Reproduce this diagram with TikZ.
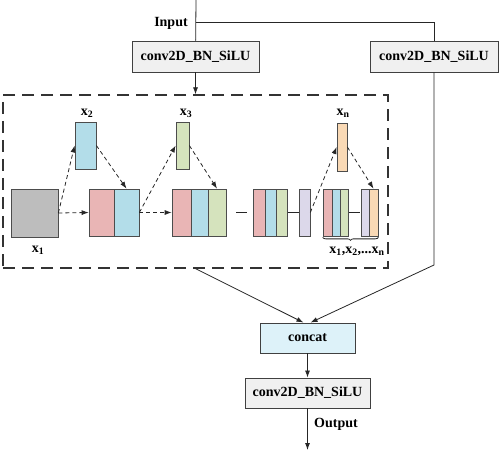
\documentclass[tikz,border=0pt]{standalone}
\usepackage{fontspec}
\setmainfont{Liberation Serif}
\usetikzlibrary{arrows.meta,decorations.pathreplacing}

\definecolor{convfill}{HTML}{F0F0F0}
\definecolor{catfill}{HTML}{DDF2F9}
\definecolor{fgray}{HTML}{BDBDBD}
\definecolor{fpink}{HTML}{E9B5B5}
\definecolor{fblue}{HTML}{B3DDE9}
\definecolor{fgreen}{HTML}{D5E3BD}
\definecolor{flav}{HTML}{DCD8EA}
\definecolor{forange}{HTML}{F9D9B5}

\begin{document}
\begin{tikzpicture}[
    x=1pt, y=-1pt,
    font=\fontsize{14}{16}\selectfont\bfseries,
    conv/.style={draw=black!75, fill=convfill, line width=0.9pt, minimum width=127pt, minimum height=31pt, inner sep=0pt},
    cat box/.style={conv, fill=catfill, minimum width=95pt, minimum height=30pt},
    feat/.style={draw=black!70, fill=#1, line width=0.7pt, minimum height=47pt, inner sep=0pt},
    csp box/.style={draw=black!80, line width=1.3pt, dash pattern=on 12pt off 7pt, minimum width=385pt, minimum height=173pt},
    line/.style={draw=black!85, line width=0.8pt},
    arr/.style={line, -{Latex[length=7pt,width=5pt]}},
    flow/.style={arr, dash pattern=on 4pt off 3pt},
    sep/.style={draw=black!85, line width=1.6pt},
    lbl/.style={inner sep=1pt}
]
\useasboundingbox (0,0) rectangle (500,454);

% Input and first convolutions
\coordinate (in) at (196,0);
\coordinate (split) at (196,22);
\node[lbl] (inlbl) at (171,23) {Input};
\node[conv] (cl) at (195.5,56.5) {conv2D\_BN\_SiLU};
\node[conv, minimum width=128pt] (cr) at (434,56.5) {conv2D\_BN\_SiLU};

\draw[line] (in) -- (cl);
\draw[line] (split) -| (cr);

% Dashed block
\node[csp box] (csp) at (195.5,181.5) {};
\draw[arr] (cl) -- (csp);

% Feature maps
\node[feat=fgray, minimum width=47pt, minimum height=48pt] (x1) at (34.5,213) {};
\node[feat=fblue, minimum width=21pt] (x2) at (85.5,145.5) {};
\node[feat=fpink, minimum width=25pt] (p2) at (101.5,212.5) {};
\node[feat=fblue, minimum width=25pt] (b2) at (126.5,212.5) {};

\node[feat=fgreen, minimum width=13pt] (x3) at (182.5,145.5) {};
\node[feat=fpink, minimum width=19pt] (p3) at (181.5,212.5) {};
\node[feat=fblue, minimum width=17pt] (b3) at (199.5,212.5) {};
\node[feat=fgreen, minimum width=18pt] (g3) at (217,212.5) {};

\node[feat=fpink, minimum width=12pt] (p4) at (259,212.5) {};
\node[feat=fblue, minimum width=11pt] (b4) at (270.5,212.5) {};
\node[feat=fgreen, minimum width=11pt] (g4) at (281.5,212.5) {};
\node[feat=flav, minimum width=11pt] (l4) at (304.5,212.5) {};

\node[feat=forange, minimum width=10pt, minimum height=48pt] (xn) at (342,147) {};
\node[feat=fpink, minimum width=9pt] (p5) at (327.5,212.5) {};
\node[feat=fblue, minimum width=8pt] (b5) at (336,212.5) {};
\node[feat=fgreen, minimum width=8pt] (g5) at (344,212.5) {};
\node[feat=flav, minimum width=8pt] (l5) at (365,212.5) {};
\node[feat=forange, minimum width=9pt] (o5) at (373.5,212.5) {};

% Labels
\node[lbl] (lx1) at (38,250) {x\textsubscript{1}};
\node[lbl] (lx2) at (87,113) {x\textsubscript{2}};
\node[lbl] (lx3) at (186,113) {x\textsubscript{3}};
\node[lbl] (lxn) at (343,113) {x\textsubscript{n}};
\node[lbl] (lall) at (357,251) {x\textsubscript{1},x\textsubscript{2},...x\textsubscript{n}};

\draw[line, decorate, decoration={brace, amplitude=3pt}]
    ([yshift=-1pt]o5.south east) -- ([yshift=-1pt]p5.south west);

% Dashed paths
\draw[flow] (x1.east) -- (p2.west);
\draw[flow] (x1.east) -- (x2.west);
\draw[flow] (x2.east) -- (b2.north);
\draw[flow] (b2.east) -- (p3.west);
\draw[flow] (b2.east) -- (x3.west);
\draw[flow] (x3.east) -- (g3.north);
\draw[flow] (l4.east) -- (xn.west);
\draw[flow] (xn.east) -- (o5.north);

% Separators
\draw[sep, shorten <=10pt, shorten >=6pt] (g3) -- (p4);
\draw[sep, shorten <=1pt] (g4) -- (l4);
\draw[sep, shorten <=1pt, shorten >=1pt] (g5) -- (l5);

% Concat and output
\node[cat box] (cc) at (307.5,338) {concat};
\node[conv, minimum width=125pt, minimum height=30pt] (cb) at (307.5,393) {conv2D\_BN\_SiLU};
\coordinate (bend) at (434,265);
\coordinate (out) at (307.5,450);
\node[lbl] (outlbl) at (336,424) {Output};

\draw[arr] (csp.south) -- ([xshift=-4pt]cc.north);
\draw[arr] (cr) -- (bend) -- ([xshift=3pt]cc.north);
\draw[arr] (cc) -- (cb);
\draw[arr] (cb) -- (out);

\end{tikzpicture}
\end{document}
